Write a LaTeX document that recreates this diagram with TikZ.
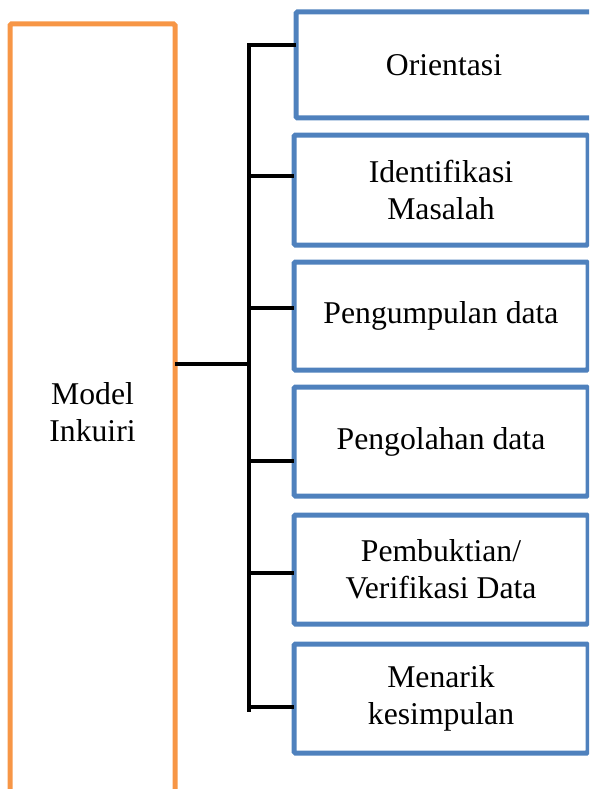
\documentclass[tikz,border=0pt]{standalone}
\usepackage{fontspec}
\setmainfont{Liberation Serif}
\definecolor{oborder}{HTML}{F79646}
\definecolor{bborder}{HTML}{4F81BD}
\begin{document}
\begin{tikzpicture}[x=1pt,y=-1pt,
  bluebox/.style={draw=bborder,line width=5pt,rounded corners=1.5pt,align=center,
    inner sep=0pt,outer sep=0pt,font=\fontsize{31.7}{37}\selectfont},
  orangebox/.style={draw=oborder,line width=5pt,rounded corners=1.5pt,align=center,
    inner sep=0pt,outer sep=0pt,font=\fontsize{31.7}{37}\selectfont},
  link/.style={draw=black,line width=4pt}]
\useasboundingbox (0,0) rectangle (589,789);
\clip (0,0) rectangle (589,789);
\node[orangebox,minimum width=165pt,minimum height=776pt] (m) at (92.5,412) {Model\\Inkuiri};
\node[bluebox,minimum width=312pt,minimum height=106pt,text width=296pt] (b1) at (452,65) {\hspace*{-16pt}Orientasi};
\node[bluebox,minimum width=294pt,minimum height=110pt] (b2) at (441,190) {Identifikasi\\Masalah};
\node[bluebox,minimum width=294pt,minimum height=108pt] (b3) at (441,316) {Pengumpulan data};
\node[bluebox,minimum width=294pt,minimum height=109pt] (b4) at (441,441.5) {Pengolahan data};
\node[bluebox,minimum width=294pt,minimum height=109pt] (b5) at (441,569.5) {Pembuktian/\\Verifikasi Data};
\node[bluebox,minimum width=294pt,minimum height=109pt] (b6) at (441,698.5) {Menarik\\kesimpulan};
\coordinate (s1) at (249,45);
\coordinate (s2) at (249,176);
\coordinate (s3) at (249,308);
\coordinate (s4) at (249,461);
\coordinate (s5) at (249,573);
\coordinate (s6) at (249,707);
\coordinate (s0) at (249,364);
\coordinate (send) at (249,712);
\draw[link] (s1 -| b1.west) -- (s1) -- (send);
\draw[link] (s2) -- (s2 -| b2.west);
\draw[link] (s3) -- (s3 -| b3.west);
\draw[link] (s4) -- (s4 -| b4.west);
\draw[link] (s5) -- (s5 -| b5.west);
\draw[link] (s6) -- (s6 -| b6.west);
\draw[link] (s0 -| m.east) -- (s0);
\end{tikzpicture}
\end{document}
